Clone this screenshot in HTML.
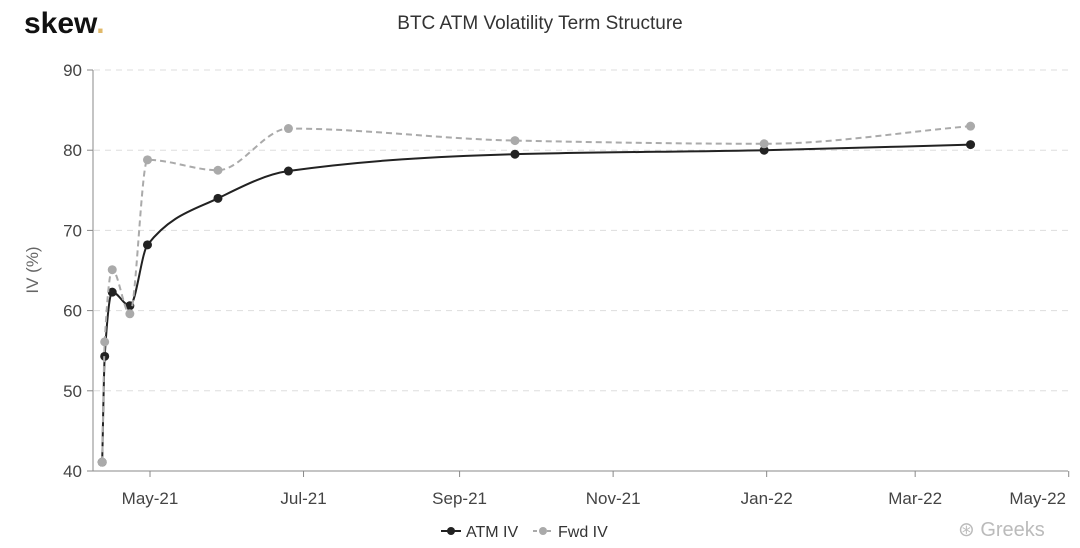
<!DOCTYPE html>
<html><head><meta charset="utf-8"><style>
body{margin:0;background:#fff;width:1080px;height:543px;overflow:hidden;font-family:"Liberation Sans",sans-serif}
</style></head><body>
<svg width="1080" height="543" id="c">
<text x="24" y="33" font-size="30" font-weight="bold" fill="#111">skew<tspan fill="#e0b96a">.</tspan></text>
<text x="540" y="29" text-anchor="middle" font-size="19" fill="#333">BTC ATM Volatility Term Structure</text>
<text x="38" y="270" text-anchor="middle" font-size="17" fill="#666" transform="rotate(-90 38 270)">IV (%)</text>
<g id="legend">
<line x1="441" y1="531" x2="461" y2="531" stroke="#222" stroke-width="2"/><circle cx="451" cy="531" r="4" fill="#222"/>
<text x="466" y="537" font-size="16" fill="#333">ATM IV</text>
<line x1="533" y1="531" x2="553" y2="531" stroke="#aaa" stroke-width="2" stroke-dasharray="4,3"/><circle cx="543" cy="531" r="4" fill="#aaa"/>
<text x="558" y="537" font-size="16" fill="#333">Fwd IV</text>
</g>
<text x="958" y="536" font-size="20" fill="#bbb">⊛ Greeks</text>
</svg>
<script>
const dates=["2021-04-12","2021-04-13","2021-04-16","2021-04-23","2021-04-30","2021-05-28","2021-06-25","2021-09-23","2021-12-31","2022-03-23"];
const atmIV=[41.1,54.3,62.3,60.6,68.2,74.0,77.4,79.5,80.0,80.7];
const fwdIV=[41.1,56.1,65.1,59.6,78.8,77.5,82.7,81.2,80.8,83.0];
const yTicks=[40,50,60,70,80,90];
const xTickLabels=["May-21","Jul-21","Sep-21","Nov-21","Jan-22","Mar-22","May-22"];
const xTickDates=["2021-05-01","2021-07-01","2021-09-01","2021-11-01","2022-01-01","2022-03-01","2022-05-01"];
const svg=document.getElementById('c');const NS="http://www.w3.org/2000/svg";
const d0=Date.parse("2021-05-01"),D=86400000;
function X(d){return 150+(Date.parse(d)-d0)/D*2.517;}
function Y(v){return 471-(v-40)*8.02;}
function mk(t,a){const e=document.createElementNS(NS,t);for(const k in a)e.setAttribute(k,a[k]);svg.appendChild(e);return e;}
yTicks.forEach(v=>{const y=Y(v);
 if(v>40){const g=mk('line',{x1:94,x2:1068,y1:y,y2:y,stroke:'#ddd','stroke-dasharray':'6,5'});
 
 }
 const tk=mk('line',{x1:87,x2:93,y1:y,y2:y,stroke:'#888'});
 
 
 const t=mk('text',{x:82,y:y+6,'text-anchor':'end','font-size':17,fill:'#444'});t.textContent=v;
 
 });
const ya=mk('line',{x1:93,x2:93,y1:Y(90),y2:471,stroke:'#888'});


const xa=mk('line',{x1:93,x2:1068,y1:471,y2:471,stroke:'#888'});


xTickDates.forEach((d,i)=>{const x=X(d);
 const tk=mk('line',{x1:x,x2:x,y1:471,y2:477,stroke:'#888'});
 
 
 const last=i===xTickDates.length-1;
 const t=mk('text',{x:last?1066:x,y:504,'text-anchor':last?'end':'middle','font-size':17,fill:'#444'});t.textContent=xTickLabels[i];
 
 });
function monotone(pts){const n=pts.length,dx=[],m=[],t=[];
 for(let i=0;i<n-1;i++){dx[i]=pts[i+1][0]-pts[i][0];m[i]=(pts[i+1][1]-pts[i][1])/dx[i];}
 t[0]=m[0];t[n-1]=m[n-2];
 for(let i=1;i<n-1;i++){if(m[i-1]*m[i]<=0)t[i]=0;else{const w1=2*dx[i]+dx[i-1],w2=dx[i]+2*dx[i-1];t[i]=(w1+w2)/(w1/m[i-1]+w2/m[i]);}}
 let d='M'+pts[0][0]+','+pts[0][1];
 for(let i=0;i<n-1;i++){const h=dx[i]/3;d+=' C'+(pts[i][0]+h)+','+(pts[i][1]+t[i]*h)+' '+(pts[i+1][0]-h)+','+(pts[i+1][1]-t[i+1]*h)+' '+pts[i+1][0]+','+pts[i+1][1];}
 return d;}
function series(vals,col,dash,name){
 const pts=dates.map((d,i)=>[X(d),Y(vals[i])]);
 const p=mk('path',{d:monotone(pts),fill:'none',stroke:col,'stroke-width':2,'stroke-dasharray':dash});
 
 
 pts.forEach((q,i)=>{const c=mk('circle',{cx:q[0],cy:q[1],r:4.5,fill:col});
 
 });}
series(atmIV,'#222','none','atm-iv');
series(fwdIV,'#aaa','6,4','fwd-iv');
</script>
</body></html>
